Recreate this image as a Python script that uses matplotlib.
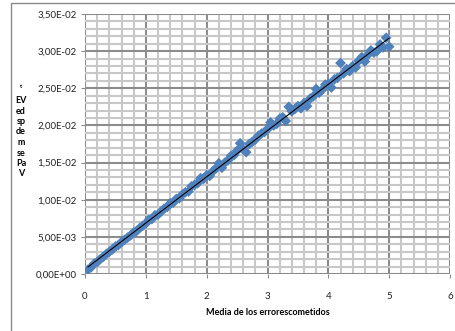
import numpy as np
import matplotlib

matplotlib.use("Agg")
import matplotlib.pyplot as plt
from matplotlib.ticker import MultipleLocator, FuncFormatter
from matplotlib.patches import Rectangle

# media de los errores (x) y valor (y, en 1e-3)
media_err = [0.05, 0.10, 0.15, 0.20, 0.25, 0.30, 0.35, 0.40, 0.45, 0.50,
             0.55, 0.60, 0.65, 0.70, 0.75, 0.80, 0.85, 0.90, 0.95, 1.00,
             1.05, 1.10, 1.15, 1.20, 1.25, 1.30, 1.35, 1.40, 1.45, 1.50,
             1.55, 1.60, 1.65, 1.70, 1.75, 1.80, 1.85, 1.90, 1.95, 2.00,
             2.05, 2.10, 2.15, 2.20, 2.25, 2.30, 2.35, 2.40, 2.45, 2.50,
             2.55, 2.60, 2.65, 2.70, 2.75, 2.80, 2.85, 2.90, 2.95, 3.00,
             3.05, 3.10, 3.15, 3.20, 3.25, 3.30, 3.35, 3.40, 3.45, 3.50,
             3.55, 3.60, 3.65, 3.70, 3.75, 3.80, 3.85, 3.90, 3.95, 4.00,
             4.05, 4.10, 4.15, 4.20, 4.25, 4.30, 4.35, 4.40, 4.45, 4.50,
             4.55, 4.60, 4.65, 4.70, 4.75, 4.80, 4.85, 4.90, 4.95, 5.00]
valor_e3 = [0.6, 0.9, 1.4, 1.6, 2.0, 2.3, 2.7, 3.0, 3.3, 3.7,
            3.9, 4.3, 4.6, 4.9, 5.2, 5.6, 5.8, 6.2, 6.5, 6.8,
            7.3, 7.4, 7.9, 8.0, 8.4, 8.8, 9.0, 9.5, 9.6, 10.1,
            10.2, 10.7, 11.0, 11.1, 11.8, 12.0, 12.2, 12.9, 12.8, 13.3,
            13.2, 13.8, 14.2, 14.9, 14.3, 15.0, 15.3, 15.9, 16.0, 16.6,
            17.6, 16.8, 16.4, 17.5, 17.8, 18.1, 18.6, 18.9, 19.1, 19.5,
            20.4, 20.0, 20.2, 20.9, 21.1, 20.6, 22.5, 21.9, 22.2, 22.6,
            22.3, 23.0, 22.6, 23.6, 23.9, 24.9, 24.4, 24.8, 25.5, 25.6,
            25.1, 26.2, 26.4, 28.4, 27.0, 27.6, 27.3, 28.0, 27.8, 28.7,
            29.2, 28.6, 29.5, 30.1, 29.8, 30.0, 30.9, 30.5, 31.8, 30.6]

# etiqueta vertical (tal como aparece, apilada)
ylab_lines = ["ᵗ", "EV", "ed", "sp", "de", "m", "se", "Pa", "V"]

x = np.array(media_err)
y = np.array(valor_e3) * 1e-3

plt.rcParams["font.family"] = ["Lato", "DejaVu Sans"]

fig = plt.figure(figsize=(4.55, 3.31), dpi=100)
W, H = 455, 331
ax = fig.add_axes([85 / W, 1 - 274 / H, (450 - 85) / W, (274 - 14) / H])

# marco exterior
fig.patches.append(Rectangle((11 / W, -0.05), 1.2, 1 - 3 / H + 0.05, transform=fig.transFigure,
                             fill=False, edgecolor="#8a8a8a", linewidth=1.0))

ax.scatter(x, y, marker="D", s=30, color="#4F81BD", edgecolors="none", zorder=3)

a, b = np.polyfit(x, y, 1)
xl = np.array([x.min(), x.max()])
ax.plot(xl, a * xl + b, color="black", linewidth=0.8, zorder=4)

ax.set_xlim(0, 6)
ax.set_ylim(0, 0.035)
ax.xaxis.set_major_locator(MultipleLocator(1))
ax.xaxis.set_minor_locator(MultipleLocator(0.2))
ax.yaxis.set_major_locator(MultipleLocator(0.005))
ax.yaxis.set_minor_locator(MultipleLocator(0.001))
ax.yaxis.set_major_formatter(FuncFormatter(lambda v, p: f"{v:.2E}".replace(".", ",")))
ax.xaxis.set_major_formatter(FuncFormatter(lambda v, p: f"{v:g}"))

ax.grid(which="minor", color="#c8c8c8", linewidth=1.5)
ax.grid(which="major", color="#8c8c8c", linewidth=1.5)
ax.set_axisbelow(True)
for s in ax.spines.values():
    s.set_visible(False)

ax.tick_params(which="minor", length=0)
ax.tick_params(which="major", length=3, width=0.8, color="#8c8c8c", labelsize=7,
               labelcolor="#222222")
ax.tick_params(axis="x", pad=10)
ax.tick_params(axis="y", pad=3)

ax.set_xlabel("Media de los errorescometidos", fontsize=6.5, fontweight="bold", labelpad=5)

y0 = 90
for i, t in enumerate(ylab_lines):
    fig.text(21 / W, 1 - (y0 + i * 10.5) / H, t, fontsize=6.5, fontweight="bold",
             ha="center", va="center")

fig.savefig("out.png", dpi=100)
